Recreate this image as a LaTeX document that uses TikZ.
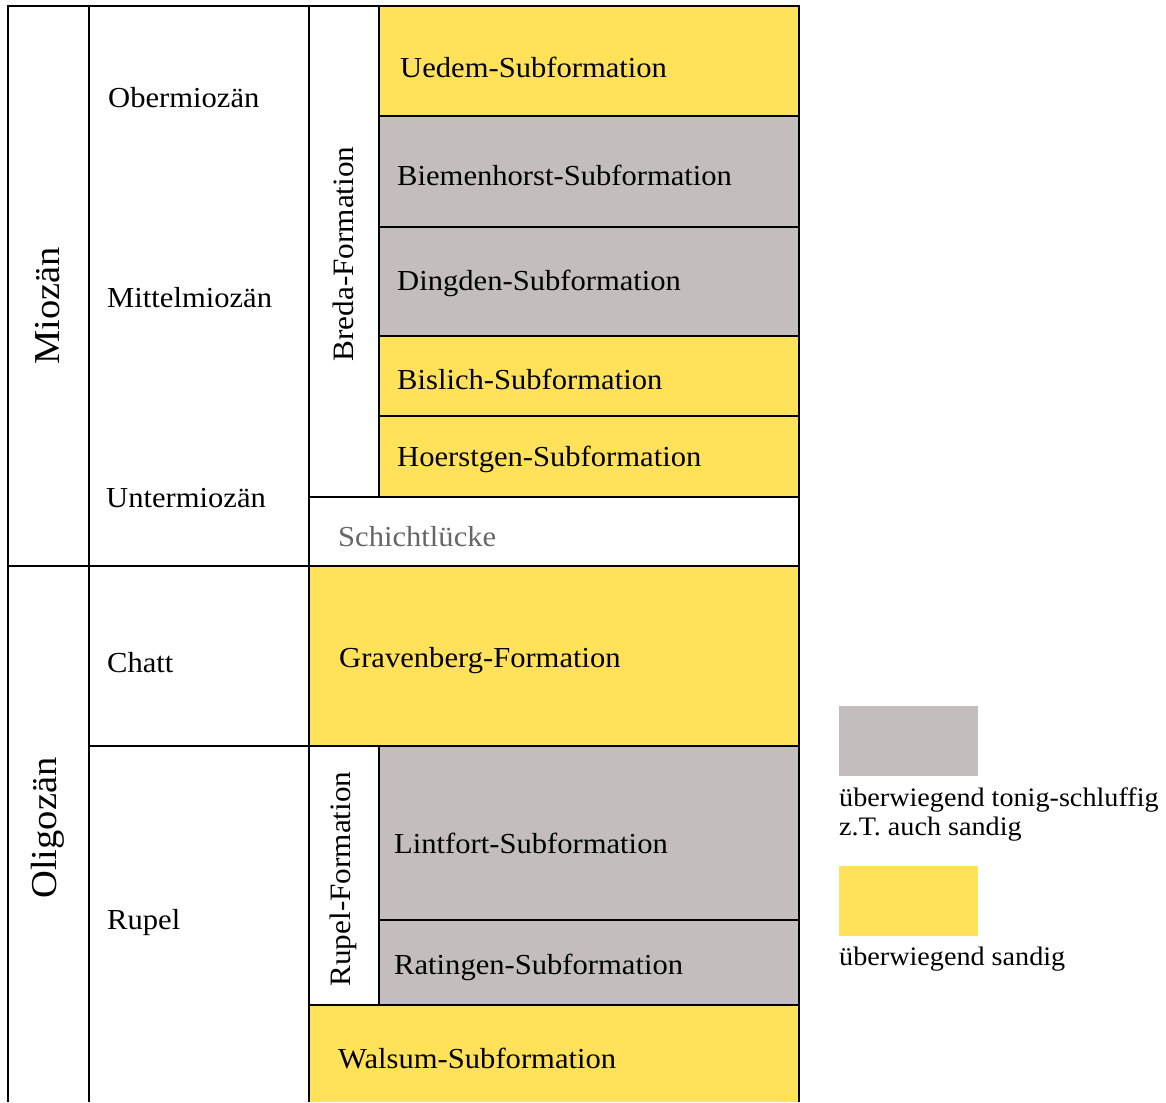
\documentclass[tikz,border=0pt]{standalone}
\usepackage{fontspec}
\setmainfont{Liberation Serif}[FakeStretch=1.055]
\definecolor{sandy}{RGB}{255,226,90}
\definecolor{clay}{RGB}{195,189,189}
\definecolor{gaptext}{RGB}{102,102,102}
\tikzset{
  lbl/.style={anchor=west,inner sep=0pt,yshift=-2pt,font=\fontsize{29}{34}\selectfont},
  vlbl/.style={inner sep=0pt,rotate=90,font=\fontsize{29.6}{34}\selectfont},
  big/.style={inner sep=0pt,rotate=90,font=\fontsize{36.5}{40}\selectfont},
  leg/.style={anchor=west,inner sep=0pt,yshift=-2pt,font=\fontsize{26.7}{30}\selectfont},
  grid/.style={line width=2.4pt,black},
}
\begin{document}
\begin{tikzpicture}[x=1pt,y=-1pt]
\useasboundingbox (0,0) rectangle (1166,1102);
% fills
\fill[sandy] (379,6) rectangle (799,116);
\fill[clay] (379,116) rectangle (799,227);
\fill[clay] (379,227) rectangle (799,336);
\fill[sandy] (379,336) rectangle (799,416);
\fill[sandy] (379,416) rectangle (799,497);
\fill[sandy] (309,566) rectangle (799,746);
\fill[clay] (379,746) rectangle (799,920);
\fill[clay] (379,920) rectangle (799,1005);
\fill[sandy] (309,1005) rectangle (799,1102);
% legend boxes
\fill[clay] (839,706) rectangle (978,776);
\fill[sandy] (839,866) rectangle (978,936);
% grid lines
\draw[grid] (8,1102) -- (8,6) -- (799,6) -- (799,1102);
\draw[grid] (89,6) -- (89,1102);
\draw[grid] (309,6) -- (309,1102);
\draw[grid] (379,6) -- (379,497);
\draw[grid] (379,746) -- (379,1005);
\draw[grid] (8,566) -- (799,566);
\draw[grid] (379,116) -- (799,116);
\draw[grid] (379,227) -- (799,227);
\draw[grid] (379,336) -- (799,336);
\draw[grid] (379,416) -- (799,416);
\draw[grid] (309,497) -- (799,497);
\draw[grid] (89,746) -- (799,746);
\draw[grid] (379,920) -- (799,920);
\draw[grid] (309,1005) -- (799,1005);
% epochs
\node[big] (mio) at (48,306) {Miozän};
\node[big] (oli) at (48,828) {Oligozän};
% stages
\node[lbl] (ober) at (108,96) {Obermiozän};
\node[lbl] (mittel) at (107,296) {Mittelmiozän};
\node[lbl] (unter) at (106,496) {Untermiozän};
\node[lbl] (chatt) at (107,661) {Chatt};
\node[lbl] (rupel) at (107,921) {Rupel};
% formations
\node[vlbl] (breda) at (343,254) {Breda-Formation};
\node[vlbl] (rupelf) at (343,879) {Rupel-Formation};
\node[lbl] (uedem) at (400,65) {Uedem-Subformation};
\node[lbl] (biem) at (397,173) {Biemenhorst-Subformation};
\node[lbl] (ding) at (397,281) {Dingden-Subformation};
\node[lbl] (bisl) at (397,377) {Bislich-Subformation};
\node[lbl] (hoer) at (397,457) {Hoerstgen-Subformation};
\node[lbl,text=gaptext] (gap) at (338,535) {Schichtlücke};
\node[lbl] (grav) at (339,659) {Gravenberg-Formation};
\node[lbl] (lint) at (394,841) {Lintfort-Subformation};
\node[lbl] (rat) at (394,965) {Ratingen-Subformation};
\node[lbl] (wals) at (338,1056) {Walsum-Subformation};
% legend
\node[leg] (leg1) at (839,798) {überwiegend tonig-schluffig};
\node[leg] (leg2) at (839,827) {z.T. auch sandig};
\node[leg] (leg3) at (839,957) {überwiegend sandig};
\end{tikzpicture}
\end{document}
